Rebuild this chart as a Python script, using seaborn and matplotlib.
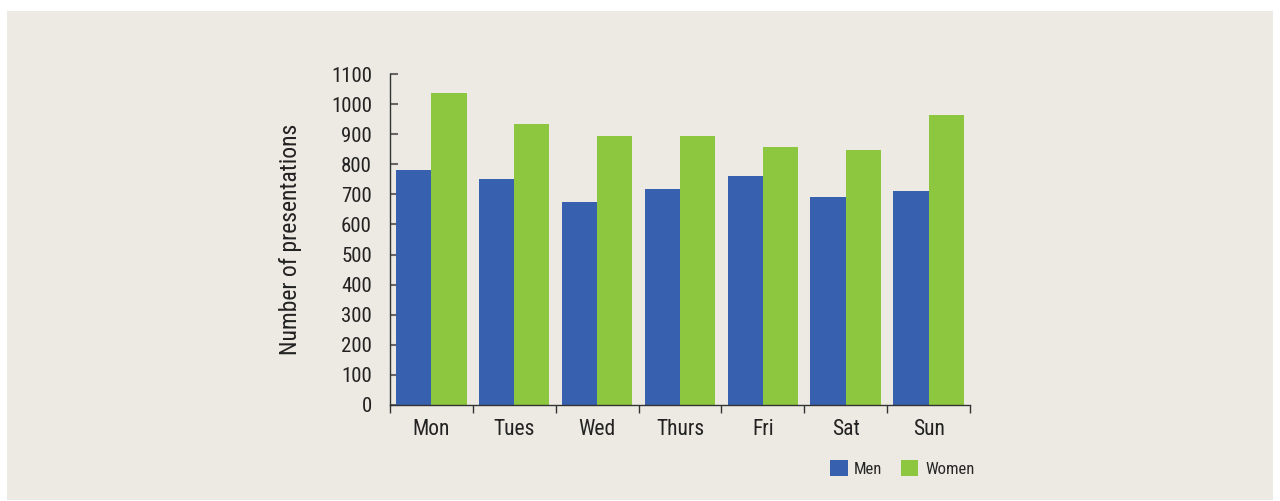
import matplotlib
matplotlib.use("Agg")
import matplotlib.pyplot as plt
from matplotlib.patches import Rectangle, Patch
import seaborn as sns
import pandas as pd

days = ["Mon", "Tues", "Wed", "Thurs", "Fri", "Sat", "Sun"]
men = [780, 751, 675, 717, 761, 691, 710]
women = [1038, 933, 895, 895, 856, 847, 963]
series = ["Men", "Women"]
colors = ["#3761AE", "#8DC63F"]
yticks = list(range(0, 1101, 100))

df = pd.DataFrame({
    "day": days * 2,
    "value": men + women,
    "sex": ["Men"] * len(days) + ["Women"] * len(days),
})

sns.set_style("white")
plt.rcParams['font.family'] = ['Roboto Condensed', 'Liberation Sans Narrow', 'Roboto', 'DejaVu Sans']
plt.rcParams['font.stretch'] = 'condensed'

bg = "#EDEAE3"
fig = plt.figure(figsize=(12.8, 5.01), dpi=100)
fig.patch.set_facecolor("white")
fig.patches.append(Rectangle((7 / 1280, 1 - 500 / 501), 1266 / 1280, 489 / 501,
                             transform=fig.transFigure, facecolor=bg,
                             edgecolor="none", zorder=-10))

ax = fig.add_axes([390 / 1280, 1 - 405 / 501, 580 / 1280, 331 / 501])
ax.set_zorder(5)
ax.set_facecolor(bg)
sns.barplot(data=df, x="day", y="value", hue="sex", order=days,
            hue_order=series, palette=colors, saturation=1, width=0.85,
            linewidth=0, ax=ax, legend=False)

ax.set_ylim(0, 1100)
ax.set_xlim(-0.5, len(days) - 0.5)
ax.set_yticks(yticks)
ax.set_yticklabels([str(t) for t in yticks], fontsize=15, color="#222222")
ax.tick_params(axis="y", left=True, direction="in", length=6, width=1.5, color="#666666", pad=13)
ax.set_xticks(range(len(days)))
ax.set_xticklabels(days, fontsize=15.5, color="#222222")
ax.tick_params(axis="x", which="major", length=0, pad=10)
ax.set_xticks([i - 0.5 for i in range(len(days) + 1)], minor=True)
ax.tick_params(axis="x", which="minor", bottom=True, direction="out", length=6, width=1, color="#333333")
ax.set_xlabel("")
ax.set_ylabel("Number of presentations", fontsize=17, color="#222222", labelpad=21)
for s in ["top", "right"]:
    ax.spines[s].set_visible(False)
for s in ["left", "bottom"]:
    ax.spines[s].set_color("#333333")
    ax.spines[s].set_linewidth(1)

handles = [Patch(facecolor=c, edgecolor="none") for c in colors]
leg = fig.legend(handles, series, loc="center left", bbox_to_anchor=(830 / 1280, 1 - 468.5 / 501),
                 ncol=2, frameon=False, fontsize=12, handlelength=1.05, handleheight=1.05,
                 handletextpad=0.4, columnspacing=1.1, borderpad=0, borderaxespad=0)
leg.set_zorder(6)

fig.savefig("out.png", dpi=100)
